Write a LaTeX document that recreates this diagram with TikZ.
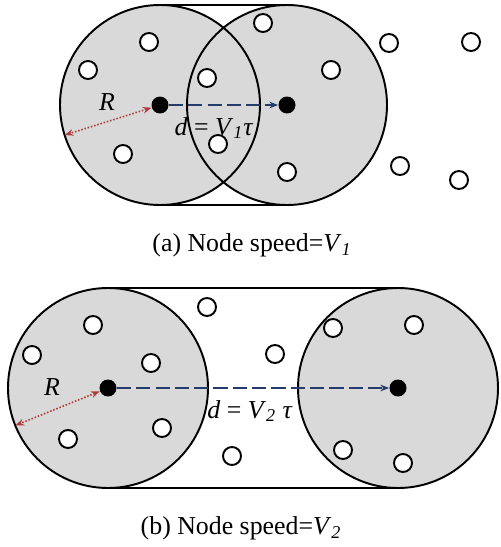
\documentclass[tikz,border=0pt]{standalone}
\usepackage{fontspec}
\setmainfont{Liberation Serif}
\usetikzlibrary{arrows.meta}
\definecolor{rangegray}{RGB}{217,217,217}
\definecolor{radred}{RGB}{175,60,60}
\definecolor{moveblue}{RGB}{35,60,105}
\tikzset{
  sensor/.style={circle,draw,fill=white,line width=1.1pt,minimum size=0.36cm,inner sep=0pt},
  mover/.style={circle,fill=black,minimum size=0.34cm,inner sep=0pt},
  rangeline/.style={line width=1.1pt},
  radius arrow/.style={radred,densely dotted,line width=0.9pt,{Stealth[length=5pt]}-{Stealth[length=5pt]}},
  move arrow/.style={moveblue,dash pattern=on 8pt off 3pt,line width=1pt,-{Stealth[length=5pt]}},
  lbl/.style={font=\fontsize{14.7}{17}\selectfont},
}
\begin{document}
\begin{tikzpicture}[x=0.02cm,y=0.02cm]
  \useasboundingbox (0,0) rectangle (500,-547);
  % (a) Slow node: the two ranges overlap.
  \coordinate (a1) at (160,-105);
  \coordinate (a2) at (287,-105);
  \fill[rangegray] (a1) circle[radius=100] (a2) circle[radius=100];
  \draw[rangeline] (a1) circle[radius=100] (a2) circle[radius=100];
  \draw[rangeline] (a1) ++(0,100) -- ++(127,0) (a1) ++(0,-100) -- ++(127,0);
  \foreach \p [count=\i] in {(149,-42),(88,-70),(207,-78),(263,-23),(331,-70),
      (389,-43),(471,-42),(123,-154),(218,-144),(287,-172),(400,-166),(459,-180)}
    \node[sensor] (sa\i) at \p {};
  \node[mover] (na1) at (a1) {};
  \node[mover] (na2) at (a2) {};
  \coordinate (ra) at ([shift={(197.5:100)}]a1);
  \draw[radius arrow] (na1) -- (ra);
  \draw[move arrow] (na1) -- (na2);
  \node[lbl,font=\fontsize{14.7}{17}\selectfont\itshape] (la) at (107,-102) {R};
  \node[lbl] (da) at (214,-128) {\textit{d} = \textit{V}\textsubscript{\textit{1}}\textit{τ}};
  \node[lbl] (capa) at (252,-245) {(a) Node speed=\textit{V}\textsubscript{\textit{1}}};
  % (b) Fast node: the two ranges are apart.
  \coordinate (b1) at (108,-388);
  \coordinate (b2) at (398,-388);
  \fill[rangegray] (b1) circle[radius=100] (b2) circle[radius=100];
  \draw[rangeline] (b1) circle[radius=100] (b2) circle[radius=100];
  \draw[rangeline] (b1) ++(0,100) -- ++(290,0) (b1) ++(0,-100) -- ++(290,0);
  \foreach \p [count=\i] in {(93,-325),(32,-355),(151,-363),(68,-439),(162,-428),
      (207,-307),(275,-354),(232,-456),(333,-328),(414,-325),(343,-450),(403,-463)}
    \node[sensor] (sb\i) at \p {};
  \node[mover] (nb1) at (b1) {};
  \node[mover] (nb2) at (b2) {};
  \coordinate (rb) at ([shift={(202:100)}]b1);
  \draw[radius arrow] (nb1) -- (rb);
  \draw[move arrow] (nb1) -- (nb2);
  \node[lbl,font=\fontsize{14.7}{17}\selectfont\itshape] (lb) at (52,-387) {R};
  \node[lbl] (db) at (250,-411) {\textit{d} = \textit{V}\textsubscript{\textit{2}} \textit{τ}};
  \node[lbl] (capb) at (241,-528) {(b) Node speed=\textit{V}\textsubscript{\textit{2}}};
\end{tikzpicture}
\end{document}
